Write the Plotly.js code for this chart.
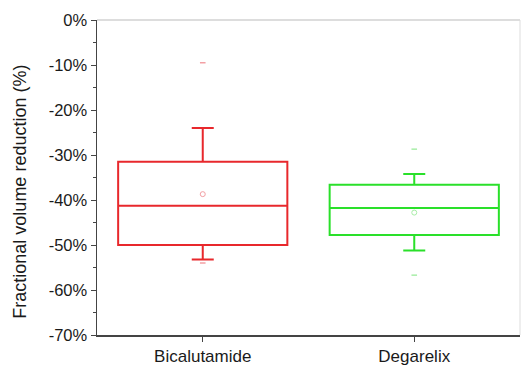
<!DOCTYPE html>
<html>
<head>
<meta charset="utf-8">
<script src="https://cdn.plot.ly/plotly-3.0.1.min.js"></script>
<style>html,body{margin:0;padding:0;background:#fff}#chart{width:522px;height:365px}</style>
</head>
<body>
<div id="chart"></div>
<script>
// Data (percent)
const groups = ["Bicalutamide", "Degarelix"];
const q1 = [-50.0, -47.8];
const median = [-41.3, -41.8];
const q3 = [-31.5, -36.6];
const lowerWhisker = [-53.2, -51.2];
const upperWhisker = [-24.0, -34.2];
const means = [-38.7, -42.8];
const outliersBica = [-9.5, -54.0];
const outliersDega = [-28.7, -56.7];
const yTickVals = [0, -10, -20, -30, -40, -50, -60, -70];
const yTickText = ["0%", "-10%", "-20%", "-30%", "-40%", "-50%", "-60%", "-70%"];
const yTitle = "Fractional volume reduction (%)";

const lineColors = ["#e8282c", "#2ae02a"];
const faintColors = ["#f3a0a4", "#a8eea8"];

const traces = [];
groups.forEach((g, i) => {
  traces.push({
    type: "box",
    x: [g],
    q1: [q1[i]], median: [median[i]], q3: [q3[i]],
    lowerfence: [lowerWhisker[i]], upperfence: [upperWhisker[i]],
    width: 0.8,
    whiskerwidth: 0.13,
    line: {color: lineColors[i], width: 2},
    fillcolor: "rgba(0,0,0,0)",
    boxpoints: false,
    showlegend: false,
    hoverinfo: "skip"
  });
});
const outs = [outliersBica, outliersDega];
groups.forEach((g, i) => {
  traces.push({
    type: "scatter", mode: "markers",
    x: outs[i].map(() => g), y: outs[i],
    marker: {symbol: "line-ew", size: 4, line: {color: faintColors[i], width: 1.5}},
    showlegend: false, hoverinfo: "skip"
  });
  traces.push({
    type: "scatter", mode: "markers",
    x: [g], y: [means[i]],
    marker: {symbol: "circle-open", size: 5, color: faintColors[i], line: {color: faintColors[i], width: 1}},
    showlegend: false, hoverinfo: "skip"
  });
});

const layout = {
  width: 522, height: 365,
  margin: {l: 97, r: 2, t: 20, b: 30},
  paper_bgcolor: "#fff", plot_bgcolor: "#fff",
  font: {family: "Arial, Liberation Sans, sans-serif", color: "#1a1a1a", size: 16.5},
  xaxis: {
    type: "category", range: [-0.5, 1.5],
    showline: true, linecolor: "#444", linewidth: 1.5,
    ticks: "outside", ticklen: 5, tickcolor: "#444",
    showgrid: false, zeroline: false,
    tickfont: {size: 17}
  },
  yaxis: {
    range: [-70, 0],
    tickvals: yTickVals, ticktext: yTickText,
    showline: true, linecolor: "#444", linewidth: 1.5,
    ticks: "outside", ticklen: 5, tickcolor: "#444",
    minor: {ticks: "outside", ticklen: 3, dtick: 5, tickcolor: "#444", showgrid: false},
    showgrid: false, zeroline: false,
    tickfont: {size: 16.5}
  },
  annotations: [{
    text: yTitle, textangle: -90, showarrow: false,
    xref: "paper", yref: "paper", x: 0, y: 0.455, xanchor: "center", yanchor: "middle",
    xshift: -77, font: {size: 18}
  }],
  shapes: [
    {type: "line", xref: "paper", yref: "paper", x0: 0, x1: 1, y0: 1, y1: 1, line: {color: "#bbbbbb", width: 1}},
    {type: "line", xref: "paper", yref: "paper", x0: 1, x1: 1, y0: 0, y1: 1, line: {color: "#dddddd", width: 1}}
  ]
};

Plotly.newPlot("chart", traces, layout, {displayModeBar: false, staticPlot: true});
</script>
</body>
</html>
